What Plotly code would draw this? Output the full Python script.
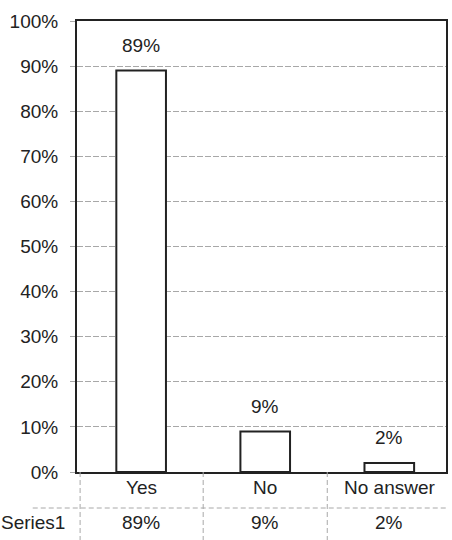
import plotly.graph_objects as go

categories = ["Yes", "No", "No answer"]
values = [89, 9, 2]
value_labels = ["89%", "9%", "2%"]
series_name = "Series1"
y_ticks = [0, 10, 20, 30, 40, 50, 60, 70, 80, 90, 100]
y_tick_labels = [f"{v}%" for v in y_ticks]

FONT = "Liberation Sans, Arial, sans-serif"
FS = 19
INK = "#222222"
GRID = "#a8a8a8"

W, H = 452, 540
ML, MR, MT, MB = 77, 4, 21, 68
PH = H - MT - MB

fig = go.Figure()
fig.add_trace(go.Bar(
    x=list(range(len(categories))), y=values, width=0.4,
    marker=dict(color="white", line=dict(color=INK, width=2)),
    hoverinfo="skip", showlegend=False,
))

annotations = []
for i, (v, t) in enumerate(zip(values, value_labels)):
    annotations.append(dict(x=i, y=v, xref="x", yref="y", text=t, showarrow=False,
                            yanchor="middle", yshift=25,
                            font=dict(family=FONT, size=FS, color=INK)))
    annotations.append(dict(x=i, y=0, xref="x", yref="paper", text=t, showarrow=False,
                            yanchor="middle", yshift=-50,
                            font=dict(family=FONT, size=FS, color=INK)))
    annotations.append(dict(x=i, y=0, xref="x", yref="paper", text=categories[i], showarrow=False,
                            yanchor="middle", yshift=-15,
                            font=dict(family=FONT, size=FS, color=INK)))
annotations.append(dict(x=0, y=0, xref="paper", yref="paper", text=series_name, showarrow=False,
                        xanchor="right", yanchor="middle", xshift=-10, yshift=-50,
                        font=dict(family=FONT, size=FS, color=INK)))

shapes = []
# table grid lines
for xb in [-0.517 + 0.025, 0.5, 1.5]:
    shapes.append(dict(type="line", xref="x", yref="paper", x0=xb, x1=xb,
                       y0=0, y1=-(MB + 2) / PH,
                       line=dict(color=GRID, width=1, dash="5px,3px")))
shapes.append(dict(type="line", xref="paper", yref="paper", x0=-0.12, x1=1.0,
                   y0=-36 / PH, y1=-36 / PH,
                   line=dict(color=GRID, width=1, dash="5px,3px")))

fig.update_layout(
    width=W, height=H,
    margin=dict(l=ML, r=MR, t=MT, b=MB),
    paper_bgcolor="white", plot_bgcolor="white",
    font=dict(family=FONT, size=FS, color=INK),
    xaxis=dict(range=[-0.517, 2.457], showticklabels=False, showgrid=False, zeroline=False,
               showline=True, linecolor=INK, linewidth=2, mirror=True, ticks=""),
    yaxis=dict(range=[0, 100], tickvals=y_ticks, ticktext=y_tick_labels,
               showgrid=True, gridcolor=GRID, griddash="6px,2px", gridwidth=1,
               zeroline=False, showline=True, linecolor=INK, linewidth=2, mirror=True,
               ticks="outside", ticklen=5, tickcolor=GRID, ticklabelstandoff=8,
               tickfont=dict(family=FONT, size=FS, color=INK)),
    annotations=annotations,
    shapes=shapes,
)

fig.write_html("out.html")
